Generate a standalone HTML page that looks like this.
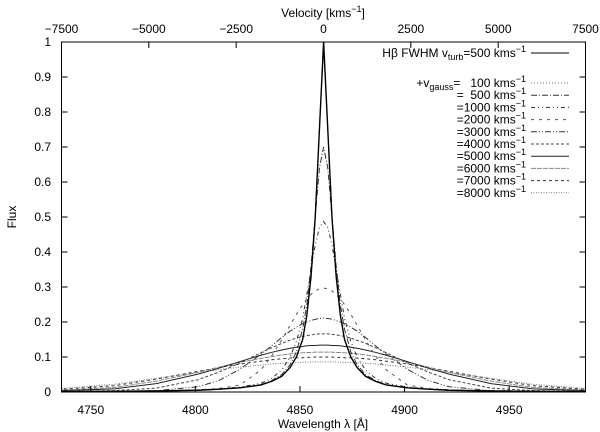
<!DOCTYPE html>
<html><head><meta charset="utf-8"><style>
html,body{margin:0;padding:0;background:#fff}
svg{display:block;font-family:"Liberation Sans",sans-serif}
</style></head><body>
<svg width="600" height="432" viewBox="0 0 600 432">
<g id="grid-layer"></g>
<g id="curves"></g>
<g id="axes"></g>
<g id="legend"></g>
</svg>
<script>
// ---- data ----
const offsets = [0,2,4,6,8,10,13,16,20,25,30,40,50,60,80,100,130];
const seriesNames = ["main","100","500","1000","2000","3000","4000","5000","6000","7000","8000"];
const yMain = [1.0,0.75,0.5,0.33,0.22,0.15,0.1,0.07,0.045,0.03,0.02,0.012,0.008,0.005,0.003,0.002,0.001];
const y100  = [0.98,0.75,0.5,0.33,0.22,0.15,0.1,0.07,0.045,0.03,0.02,0.012,0.008,0.005,0.003,0.002,0.001];
const y500  = [0.70,0.64,0.50,0.36,0.25,0.18,0.115,0.078,0.05,0.032,0.021,0.012,0.008,0.005,0.003,0.002,0.001];
const y1000 = [0.487,0.47,0.42,0.35,0.28,0.21,0.145,0.10,0.063,0.038,0.025,0.014,0.009,0.006,0.003,0.002,0.001];
const y2000 = [0.297,0.295,0.289,0.279,0.266,0.25,0.222,0.191,0.149,0.101,0.063,0.02,0.01,0.006,0.004,0.002,0.001];
const y3000 = [0.211,0.21,0.208,0.204,0.2,0.195,0.185,0.174,0.156,0.131,0.108,0.065,0.033,0.015,0.004,0.002,0.001];
const y4000 = [0.166,0.166,0.165,0.163,0.161,0.159,0.154,0.148,0.139,0.126,0.112,0.083,0.057,0.035,0.011,0.004,0.001];
const y5000 = [0.134,0.134,0.133,0.133,0.132,0.13,0.128,0.125,0.12,0.113,0.105,0.087,0.068,0.051,0.024,0.009,0.003];
const y6000 = [0.114,0.114,0.114,0.113,0.113,0.112,0.111,0.109,0.106,0.101,0.096,0.085,0.071,0.056,0.031,0.013,0.004];
const y7000 = [0.1,0.1,0.1,0.099,0.099,0.098,0.098,0.097,0.095,0.092,0.088,0.08,0.07,0.059,0.037,0.018,0.006];
const y8000 = [0.086,0.086,0.086,0.086,0.085,0.085,0.084,0.083,0.082,0.08,0.077,0.071,0.064,0.056,0.039,0.022,0.008];
const lineCenter = 4861.3;
const xTicks = [4750,4800,4850,4900,4950];
const vTicks = [-7500,-5000,-2500,0,2500,5000,7500];
const yTicks = [0,0.1,0.2,0.3,0.4,0.5,0.6,0.7,0.8,0.9,1];
const legendLabels = ["100","500","1000","2000","3000","4000","5000","6000","7000","8000"];

// ---- layout ----
const L=61.5,R=585.5,T=42,B=392;
const xMin=4736,xMax=4986.5;
const X=w=>L+(w-xMin)/(xMax-xMin)*(R-L);
const V=v=>L+(v+7500)/15000*(R-L);
const Y=f=>B-f*(B-T);
const NS="http://www.w3.org/2000/svg";
function mk(tag,parent){const e=document.createElementNS(NS,tag);parent.appendChild(e);return e;}

const styles={
 "100":{d:"1,2",c:"#777",w:1},
 "500":{d:"6,2,1,2",c:"#333",w:1},
 "1000":{d:"4,3,1,3,1,3",c:"#333",w:1},
 "2000":{d:"3,5",c:"#555",w:1},
 "3000":{d:"6,2,1,2,1,2",c:"#333",w:1},
 "4000":{d:"3,2",c:"#444",w:1},
 "5000":{d:"",c:"#222",w:1},
 "6000":{d:"5,1",c:"#888",w:1},
 "7000":{d:"3,3",c:"#333",w:1},
 "8000":{d:"1,1.5",c:"#777",w:1},
 "main":{d:"",c:"#000",w:1.4}
};
const seriesData={"main":yMain,"100":y100,"500":y500,"1000":y1000,"2000":y2000,"3000":y3000,"4000":y4000,"5000":y5000,"6000":y6000,"7000":y7000,"8000":y8000};

const curves=document.getElementById('curves');
const order=["8000","7000","6000","5000","4000","3000","2000","1000","500","100","main"];
order.forEach(name=>{
  const ys=seriesData[name];
  const pts=[];
  for(let i=offsets.length-1;i>=0;i--) pts.push([lineCenter-offsets[i],ys[i]]);
  for(let i=1;i<offsets.length;i++) pts.push([lineCenter+offsets[i],ys[i]]);
  const d=pts.map((p,i)=>(i?'L':'M')+X(p[0]).toFixed(2)+','+Y(p[1]).toFixed(2)).join('');
  const p=mk('path',curves);
  
  
  p.setAttribute('d',d);
  p.setAttribute('fill','none');
  p.setAttribute('stroke',styles[name].c);
  p.setAttribute('stroke-width',styles[name].w);
  if(styles[name].d) p.setAttribute('stroke-dasharray',styles[name].d);
});
curves.setAttribute('clip-path','url(#clipPlot)');
const defs=mk('defs',document.querySelector('svg'));
const cp=mk('clipPath',defs);cp.setAttribute('id','clipPlot');
const cr=mk('rect',cp);cr.setAttribute('x',L);cr.setAttribute('y',T);cr.setAttribute('width',R-L);cr.setAttribute('height',B-T);

// ---- axes ----
const axes=document.getElementById('axes');
const frame=mk('rect',axes);


frame.setAttribute('x',L);frame.setAttribute('y',T);frame.setAttribute('width',R-L);frame.setAttribute('height',B-T);
frame.setAttribute('fill','none');frame.setAttribute('stroke','#000');frame.setAttribute('stroke-width','1');
function line(x1,y1,x2,y2){const l=mk('line',axes);l.setAttribute('x1',x1);l.setAttribute('y1',y1);l.setAttribute('x2',x2);l.setAttribute('y2',y2);l.setAttribute('stroke','#000');l.setAttribute('stroke-width','1');return l;}
function text(x,y,s,anchor,parent){const t=mk('text',parent||axes);t.setAttribute('x',x);t.setAttribute('y',y);t.setAttribute('font-size','12');t.setAttribute('text-anchor',anchor||'middle');t.textContent=s;return t;}
xTicks.forEach(w=>{
  const x=X(w);
  const tk=line(x,B,x,B-6);
  
  
  const t=text(x,414,String(w));
  
  
});
vTicks.forEach(v=>{
  const x=V(v);
  const tk=line(x,T,x,T+6);
  
  
  const t=text(x,33,String(v).replace('-','\u2212'));
  
  
});
yTicks.forEach(f=>{
  const y=Y(f);
  const a=line(L,y,L+6,y);
  
  
  const b=line(R,y,R-6,y);
  
  
  const t=text(51,y+4,String(f),'end');
  
  
});
const xt=text(323,428,'Wavelength \u03bb [\u00c5]');


const yt=text(0,0,'Flux');
yt.setAttribute('transform','translate(16,217) rotate(-90)');


const vt=mk('text',axes);


vt.setAttribute('x',323);vt.setAttribute('y',17);vt.setAttribute('font-size','12');vt.setAttribute('text-anchor','middle');
vt.innerHTML='Velocity [kms<tspan dy="-5" font-size="9">\u22121</tspan><tspan dy="5">]</tspan>';

// ---- legend ----
const lg=document.getElementById('legend');
function legendRow(y,html,name){
  const t=mk('text',lg);
  
  
  t.setAttribute('x',526);t.setAttribute('y',y+4);t.setAttribute('font-size','12');t.setAttribute('text-anchor','end');
  t.innerHTML=html;
  const l=mk('line',lg);
  
  
  l.setAttribute('x1',531);l.setAttribute('x2',569);l.setAttribute('y1',y);l.setAttribute('y2',y);
  l.setAttribute('stroke',styles[name].c);l.setAttribute('stroke-width',1);
  if(styles[name].d) l.setAttribute('stroke-dasharray',styles[name].d);
}
const sup='<tspan dy="-5" font-size="9">\u22121</tspan>';
legendRow(53,'H\u03b2 FWHM v<tspan dy="3" font-size="9">turb</tspan><tspan dy="-3">=500 kms</tspan>'+sup,'main');
legendLabels.forEach((lab,i)=>{
  const y=83+i*12.2;
  const num=lab.length<4?('\u2007'.repeat(4-lab.length)+lab):lab;
  let html;
  if(i===0) html='+v<tspan dy="3" font-size="9">gauss</tspan><tspan dy="-3">= '+num+' kms</tspan>'+sup;
  else html='='+num+' kms'+sup;
  legendRow(y,html,lab);
});
</script>
</body></html>
